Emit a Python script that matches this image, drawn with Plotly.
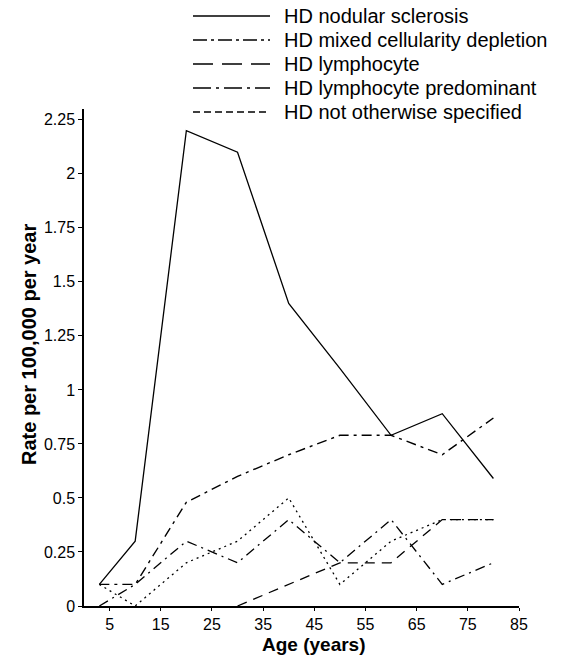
import plotly.graph_objects as go

# ---- data ----
ages = [3, 10, 20, 30, 40, 50, 60, 70, 80]
nodular_sclerosis = [0.1, 0.3, 2.2, 2.1, 1.4, 1.1, 0.79, 0.89, 0.59]
mixed_cellularity = [0.1, 0.1, 0.48, 0.6, 0.7, 0.79, 0.79, 0.7, 0.87]
lymphocyte = [None, None, None, 0, 0.1, 0.2, 0.2, 0.4, 0.4]
lymphocyte_predominant = [0, 0.1, 0.3, 0.2, 0.4, 0.2, 0.4, 0.1, 0.2]
not_specified = [0.1, 0, 0.2, 0.3, 0.5, 0.1, 0.3, 0.4, 0.4]

series_names = [
    "HD nodular sclerosis",
    "HD mixed cellularity depletion",
    "HD lymphocyte",
    "HD lymphocyte predominant",
    "HD not otherwise specified",
]
series_values = [nodular_sclerosis, mixed_cellularity, lymphocyte,
                 lymphocyte_predominant, not_specified]

x_tickvals = [5, 15, 25, 35, 45, 55, 65, 75, 85]
y_tickvals = [0, 0.25, 0.5, 0.75, 1, 1.25, 1.5, 1.75, 2, 2.25]
y_ticktext = ["0", "0.25", "0.5", "0.75", "1", "1.25", "1.5", "1.75", "2", "2.25"]

x_title = "Age (years)"
y_title = "Rate per 100,000 per year"

# ---- styles ----
plot_dash = ["solid", "10px,5px,3px,5px", "10px,7px", "10px,5px,2px,5px", "2px,4px"]
plot_width = [1.3, 1.4, 1.3, 1.3, 1.3]
legend_dash = ["solid", "14px,4px,3px,4px", "20px,9px", "18px,5px,3px,5px", "7px,4px"]

FONT = "Liberation Sans, Arial, sans-serif"

fig = go.Figure()
for name, vals, dash, w in zip(series_names, series_values, plot_dash, plot_width):
    fig.add_trace(go.Scatter(
        x=ages, y=vals, mode="lines", name=name, connectgaps=False,
        line=dict(color="black", width=w, dash=dash),
        showlegend=False,
    ))

W, H = 576, 657
ml, mr, mt, mb = 84, 57, 109, 51
pw, ph = W - ml - mr, H - mt - mb

def px_to_paper_x(px):
    return (px - ml) / pw

def px_to_paper_y(py):
    return (H - mb - py) / ph

shapes = []
annotations = []
for i, (name, dash) in enumerate(zip(series_names, legend_dash)):
    py = 16 + 24 * i
    yp = px_to_paper_y(py)
    shapes.append(dict(type="line", xref="paper", yref="paper",
                       x0=px_to_paper_x(193), x1=px_to_paper_x(270), y0=yp, y1=yp,
                       line=dict(color="black", width=1.5, dash=dash)))
    annotations.append(dict(xref="paper", yref="paper", x=px_to_paper_x(282), y=yp,
                            xanchor="left", yanchor="middle", showarrow=False,
                            text=name, font=dict(family=FONT, size=20, color="black")))

annotations.append(dict(xref="paper", yref="paper", x=px_to_paper_x(314),
                        y=px_to_paper_y(656), xanchor="center", yanchor="bottom",
                        showarrow=False, text="<b>" + x_title + "</b>", borderpad=0,
                        font=dict(family=FONT, size=19, color="black")))
annotations.append(dict(xref="paper", yref="paper", x=px_to_paper_x(29),
                        y=px_to_paper_y(345), xanchor="center", yanchor="middle",
                        textangle=-90, showarrow=False, text="<b>" + y_title + "</b>",
                        font=dict(family=FONT, size=20, color="black")))

fig.update_layout(
    width=W, height=H,
    margin=dict(l=ml, r=mr, t=mt, b=mb),
    paper_bgcolor="white", plot_bgcolor="white",
    font=dict(family=FONT, size=16, color="black"),
    shapes=shapes, annotations=annotations,
    xaxis=dict(range=[0, 85], tickvals=x_tickvals, showgrid=False, zeroline=False,
               showline=True, linecolor="black", linewidth=1.5,
               ticks="outside", ticklen=3, tickwidth=1.2, tickcolor="black",
               tickfont=dict(size=16)),
    yaxis=dict(range=[0, 2.3], tickvals=y_tickvals, ticktext=y_ticktext,
               showgrid=False, zeroline=False,
               showline=True, linecolor="black", linewidth=1.5,
               ticks="outside", ticklen=4, tickwidth=1.2, tickcolor="black",
               tickfont=dict(size=16)),
)

fig.write_html("out.html",
               config={"displayModeBar": False},
               post_script="document.body.style.margin='0';document.body.style.overflow='hidden';")
